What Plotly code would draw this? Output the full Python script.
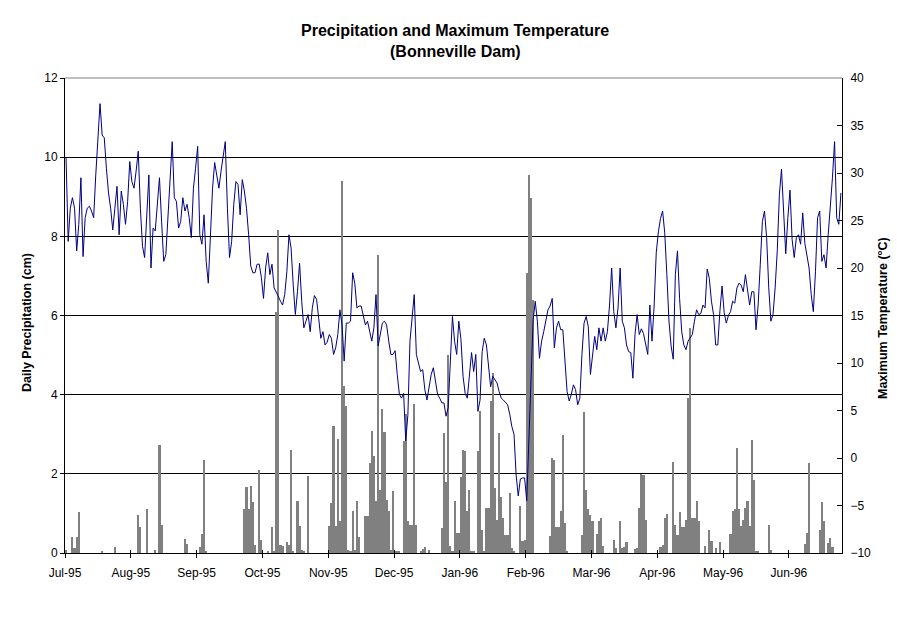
import pandas as pd
import plotly.graph_objects as go

# ---------------- data ----------------
tick_labels = ["Jul-95", "Aug-95", "Sep-95", "Oct-95", "Nov-95", "Dec-95",
               "Jan-96", "Feb-96", "Mar-96", "Apr-96", "May-96", "Jun-96"]

# daily precipitation (cm), one list per month
precip_jul = [0.08,0,0,0.40,0.13,0.40,1.03,0,0,0, 0,0,0,0,0,0,0,0.06,0,0, 0,0,0,0.16,0,0,0,0,0,0, 0]
precip_aug = [0,0,0,0.95,0.66,0,0,1.12,0,0, 0,0.08,0,2.72,0.72,0,0,0,0,0, 0,0,0,0,0,0.36,0.24,0,0,0, 0]
precip_sep = [0,0.14,0.49,2.34,0.06,0,0,0,0,0, 0,0,0,0,0,0,0,0,0,0, 0,0,1.10,1.66,1.12,1.70,1.28,0.19,0,2.10]
precip_oct = [0.34,0,0,0.06,0,0.65,0.04,6.10,8.15,0.19, 0.17,0,0.27,0.21,2.61,0.05,0,1.32,0.67,0.08, 0.06,0,1.95,0,0,0,0,0,0,0, 0]
precip_nov = [0,0.69,1.26,3.20,0.69,2.88,0.82,9.41,4.21,3.72, 0.08,0.05,1.07,0.08,1.31,0.40,0,0,0.93,0.93, 2.27,3.09,2.46,1.31,7.54,1.58,3.64,3.05,1.35,1.05]
precip_dec = [0.08,1.56,0.05,0.05,0.06,0,2.82,3.52,0.80,0.72, 0.72,3.77,0.72,0,0.04,0.10,0.14,0,0.08,0, 0,0,0,0,0.63,3.02,1.79,5.01,0.17,0.06, 1.31]
precip_jan = [0.50,0.50,1.91,2.61,2.57,1.05,1.60,0.06,0.04,0, 2.57,3.58,0.59,0.06,1.14,1.14,3.83,4.55,1.64,0.84, 3.03,1.41,0.88,0.46,0.46,1.52,0.12,0.04,0,0, 1.20]
precip_feb = [0.30,0.34,7.08,9.54,8.97,6.40,0,0,0,0, 0,0,0,0.44,2.40,2.36,0.65,0.65,1.05,2.97, 0.76,0.06,0,0,0,0,0,0,0.46]
precip_mar = [3.56,1.58,1.12,0.95,0.80,0,0.48,0.82,0.88,0.17, 0,0,0,0,0.34,0.13,0,0.80,0.13,0.14, 0.28,0,0,0,0.09,0.13,1.14,2.00,1.98,0.84, 0]
precip_apr = [0,0,0,0,0,0.15,0.21,0.88,0.99,0, 0,2.29,0.72,0.46,1.04,0.66,0.66,0.84,3.92,5.69, 0.88,0.88,1.31,0.80,0,0,0.17,0,0.59,0.31]
precip_may = [0,0.13,0,0.27,0,0,0,0,0.48,1.05, 1.12,2.65,1.12,0.67,0.84,1.14,1.31,0.67,2.85,1.85, 0.04,0.04,0,0,0,0,0.72,0.08,0,0, 0]
precip_jun = [0,0,0,0,0,0,0,0,0,0, 0,0,0.23,0.50,2.27,0,0,0,0,0.59, 1.28,0.80,0,0.25,0.38,0.14,0,0,0,0]

# daily maximum temperature (deg C), one list per month
temp_jul = [31.6,22.8,26.3,27.4,26.3,21.8,24.6,29.5,21.2,25.3, 26.3,26.5,26.0,25.3,29.8,33.9,37.3,34.0,33.7,30.5,
            27.9,26.3,24.0,26.3,28.6,23.5,28.1,26.7,24.6,27.0, 31.2]
temp_aug = [29.1,28.4,30.2,32.3,26.3,22.3,21.1,25.6,29.8,20.0, 24.2,23.9,27.0,29.5,24.9,20.7,21.4,25.6,30.2,33.3,
            27.4,27.0,24.2,24.9,27.4,26.0,26.7,25.3,23.2,28.4, 30.5]
temp_sep = [32.8,23.5,22.5,25.6,20.7,18.4,23.9,28.4,31.1,29.6, 28.4,30.2,31.8,33.3,26.3,21.1,22.8,26.7,29.1,28.8,
            25.6,29.3,28.1,26.3,23.5,20.2,19.5,19.5,20.4,20.4]
temp_oct = [19.0,16.8,20.0,21.6,19.3,20.4,17.9,17.5,17.0,16.5, 16.1,17.2,19.6,23.5,22.1,18.2,15.1,17.5,20.5,16.5,
            13.7,14.4,15.1,13.3,15.8,17.1,16.7,14.7,12.6,13.3, 11.9]
temp_nov = [12.2,13.0,12.6,10.9,11.6,13.0,15.6,14.0,10.2,14.2, 14.2,14.4,19.5,18.4,15.8,16.0,16.0,15.1,14.0,14.4,
            13.2,12.3,13.7,17.2,11.8,13.0,14.2,14.4,14.0,12.3]
temp_dec = [10.9,10.9,11.3,8.8,6.7,6.3,6.8,1.8,4.5,12.3, 14.4,17.2,10.9,10.0,9.1,9.3,7.2,6.1,7.4,8.8,
            9.5,8.1,6.7,6.3,5.8,5.8,4.4,5.3,10.2,14.9, 12.3]
temp_jan = [10.9,14.4,12.5,8.6,6.8,6.3,8.6,11.1,9.1,10.9, 4.9,6.1,11.2,12.6,11.9,9.6,7.5,8.6,8.2,7.9,
            7.0,6.3,6.1,5.8,5.6,4.6,3.3,2.5,-1.8,-4.0, -2.2]
temp_feb = [-2.1,-2.1,-4.5,2.0,10.0,14.5,16.5,14.4,10.5,12.3, 13.3,14.4,15.6,16.0,16.8,11.6,13.7,14.4,13.5,13.5,
            9.8,7.0,6.0,6.7,7.7,7.2,5.6,6.3,10.9]
temp_mar = [14.2,14.9,13.8,8.8,10.8,12.8,11.4,13.7,12.3,13.7, 12.3,13.3,16.1,20.0,15.4,13.7,15.8,20.0,14.4,13.7,
            11.9,11.2,11.1,8.4,13.0,15.1,13.0,13.6,13.1,11.8, 10.9]
temp_apr = [16.1,12.3,16.0,21.6,23.8,25.2,26.0,23.7,19.3,14.4, 11.8,10.4,19.3,21.8,16.8,13.3,11.9,11.4,12.3,12.6,
            13.0,14.4,15.6,15.1,15.2,16.1,15.8,19.9,18.9,16.5]
temp_may = [15.1,11.9,11.9,15.5,18.1,15.3,14.2,15.0,15.4,16.5, 16.3,17.9,18.4,18.2,17.5,19.3,17.5,16.1,17.5,17.5,
            13.5,16.1,20.4,24.9,26.0,23.2,17.9,14.4,15.1,17.9, 21.8]
temp_jun = [27.7,30.4,25.6,21.5,25.3,28.2,23.0,21.1,23.2,23.5, 22.5,25.8,22.6,21.4,20.0,17.2,15.4,19.6,25.3,26.0,
            20.7,21.4,20.0,23.5,26.3,29.5,33.3,25.3,24.6,27.9]

precip = (precip_jul + precip_aug + precip_sep + precip_oct + precip_nov + precip_dec +
          precip_jan + precip_feb + precip_mar + precip_apr + precip_may + precip_jun)
temp = (temp_jul + temp_aug + temp_sep + temp_oct + temp_nov + temp_dec +
        temp_jan + temp_feb + temp_mar + temp_apr + temp_may + temp_jun)

days = pd.date_range("1995-07-01", "1996-06-30", freq="D")
half = pd.Timedelta(hours=12)
# category-style axis with a tick every 31 days (between categories)
tick_pos = [days[31 * k] - half for k in range(len(tick_labels))]

FONT = "Arial, 'Liberation Sans', sans-serif"

# page body has an 8px margin, so the figure is 8px smaller and margins shifted
fig = go.Figure()
fig.add_trace(go.Bar(x=days, y=precip, marker=dict(color="#808080", line=dict(width=0)),
                     yaxis="y", name="Daily Precipitation", showlegend=False))
fig.add_trace(go.Scatter(x=days, y=temp, mode="lines", line=dict(color="#000080", width=1),
                         yaxis="y2", name="Maximum Temperature", showlegend=False))

fig.update_layout(
    width=903, height=615, autosize=False,
    margin=dict(l=57, r=69, t=70, b=70, pad=0),
    paper_bgcolor="white", plot_bgcolor="white",
    font=dict(family=FONT, size=12, color="black"),
    bargap=0,
    xaxis=dict(range=[days[0] - half, days[-1] + half], tickvals=tick_pos, ticktext=tick_labels,
               showgrid=False, zeroline=False, showline=True, linecolor="black", linewidth=1,
               ticks="outside", ticklen=4, tickcolor="black", tickfont=dict(size=12),
               ticklabelstandoff=5,
               minor=dict(tickvals=tick_pos[1:], ticks="inside", ticklen=3, tickcolor="black",
                          showgrid=False)),
    yaxis=dict(range=[0, 12], tickvals=[0, 2, 4, 6, 8, 10, 12], showgrid=True, gridcolor="black",
               gridwidth=1, zeroline=False, showline=True, linecolor="black", linewidth=1,
               ticks="outside", ticklen=4, tickcolor="black", tickfont=dict(size=12)),
    yaxis2=dict(range=[-10, 40], tickvals=list(range(-10, 45, 5)), overlaying="y", side="right",
                showgrid=False, zeroline=False, showline=True, linecolor="black", linewidth=1,
                ticks="inside", ticklen=5, tickcolor="black", tickfont=dict(size=12),
                ticklabelstandoff=5),
    shapes=[dict(type="line", xref="paper", yref="paper", x0=0, x1=1, y0=1, y1=1,
                 line=dict(color="#808080", width=1), layer="above")],
    annotations=[
        dict(text="<b>Precipitation and Maximum Temperature</b>", xref="paper", yref="paper",
             x=(455 - 65) / 777, y=(553 - 31) / 475, xanchor="center", yanchor="middle",
             showarrow=False, font=dict(size=16, family=FONT)),
        dict(text="<b>(Bonneville Dam)</b>", xref="paper", yref="paper",
             x=(455 - 65) / 777, y=(553 - 52) / 475, xanchor="center", yanchor="middle",
             showarrow=False, font=dict(size=16, family=FONT)),
        dict(text="<b>Daily Precipitation (cm)</b>", xref="paper", yref="paper",
             x=(27 - 65) / 777, y=(553 - 323) / 475, xanchor="center", yanchor="middle",
             textangle=-90, showarrow=False, font=dict(size=12.5, family=FONT)),
        dict(text="<b>Maximum Temperature (°C)</b>", xref="paper", yref="paper",
             x=(883 - 65) / 777, y=(553 - 318) / 475, xanchor="center", yanchor="middle",
             textangle=-90, showarrow=False, font=dict(size=12.5, family=FONT)),
    ],
)

fig.write_html("out.html")
